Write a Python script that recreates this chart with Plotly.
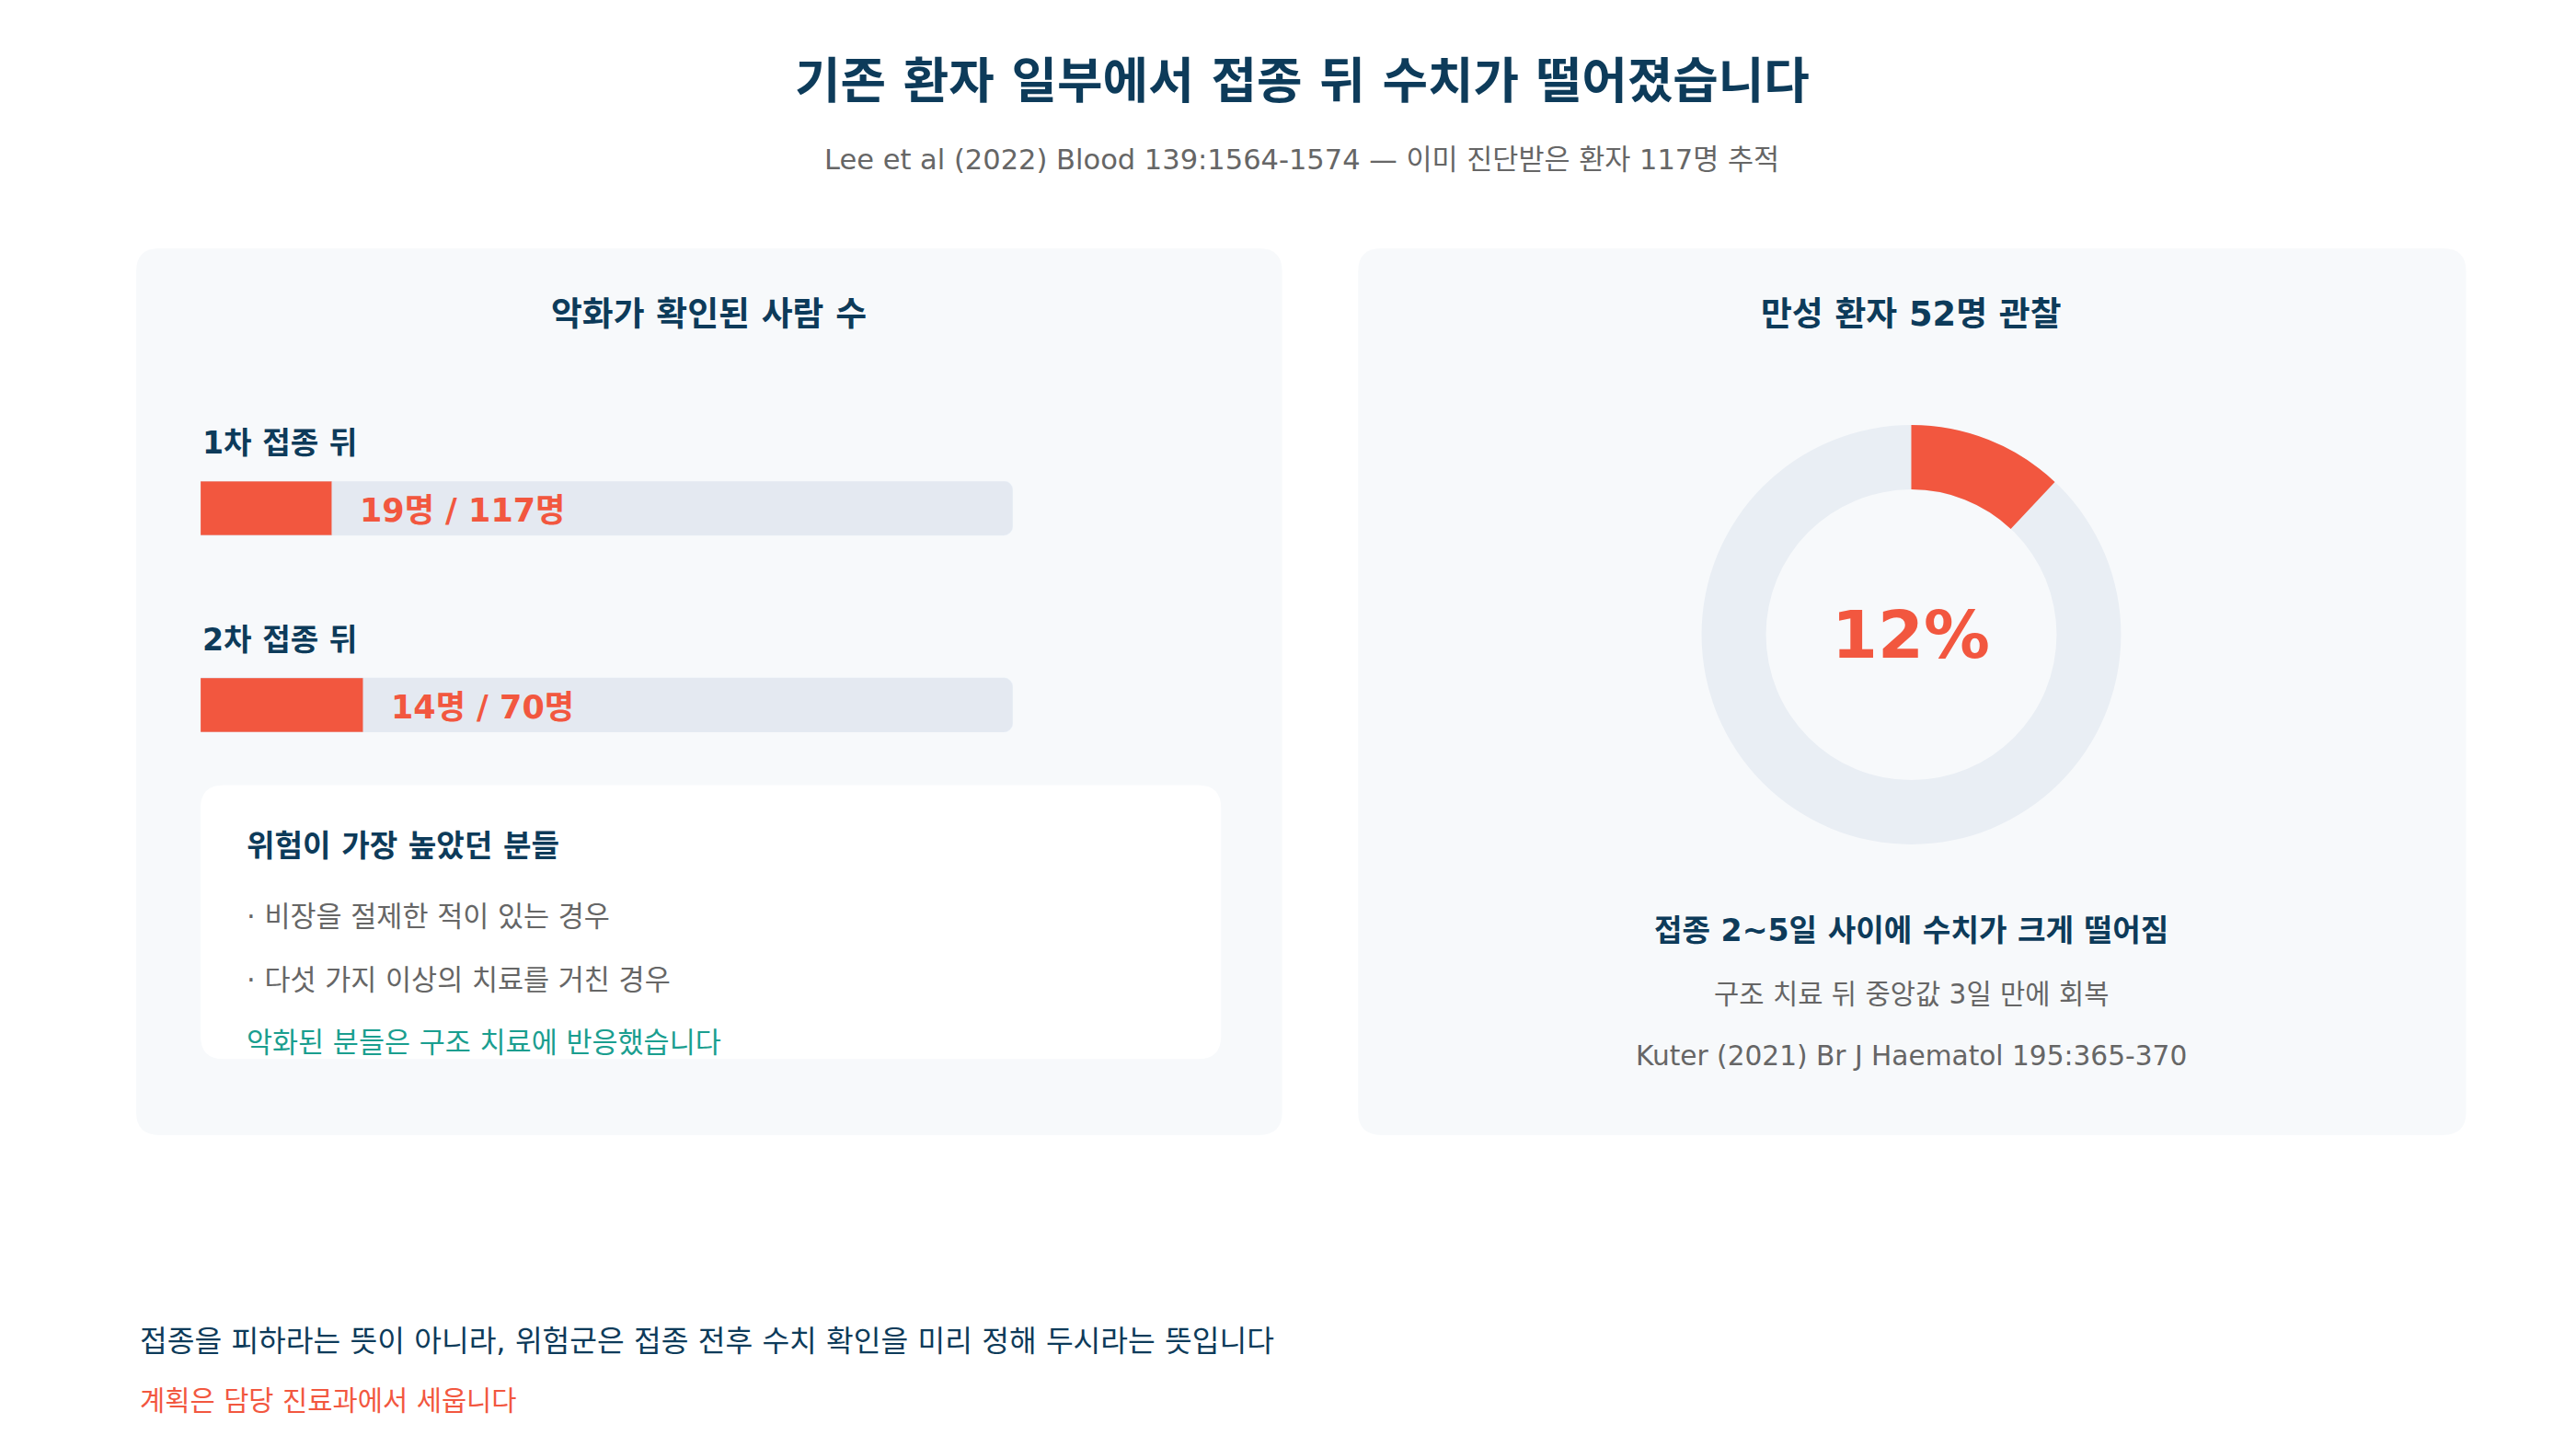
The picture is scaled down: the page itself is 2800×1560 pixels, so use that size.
import plotly.graph_objects as go

title = "기존 환자 일부에서 접종 뒤 수치가 떨어졌습니다"
subtitle = "Lee et al (2022) Blood 139:1564-1574 — 이미 진단받은 환자 117명 추적"
bar_labels = ["1차 접종 뒤", "2차 접종 뒤"]
bar_counts = [19, 14]
bar_totals = [117, 70]
risk_items = ["· 비장을 절제한 적이 있는 경우", "· 다섯 가지 이상의 치료를 거친 경우"]
donut_pct = 12

W, H = 2800, 1560
S = W / 1560.0
HD = H / S
FONT = "DejaVu Sans, Noto Sans CJK KR"
DARK = "#0d3b5a"; RED = "#f2573f"; GRAY = "#666666"; TEAL = "#1a9e8f"

def px(xd): return xd / 1560.0
def py(yd): return 1 - yd / HD

fig = go.Figure()

yv = [1, 0]
fig.add_trace(go.Bar(x=[1, 1], y=yv, orientation="h", marker_color="#e4e9f1",
                     width=33/119, hoverinfo="skip"))
fig.add_trace(go.Bar(x=[c/t for c, t in zip(bar_counts, bar_totals)], y=yv, orientation="h",
                     marker_color=RED, width=33/119, hoverinfo="skip"))
r = 16.5/119
fig.update_layout(
    xaxis=dict(domain=[px(117), px(609)], range=[0, 1], visible=False, fixedrange=True),
    yaxis=dict(domain=[py(439), py(287)], range=[-r, 1+r], visible=False, fixedrange=True),
    barmode="overlay", barcornerradius=int(6*S), bargap=0)

dom = dict(x=[px(1026), px(1280)], y=[py(507), py(253)])
fig.add_trace(go.Pie(values=[1], marker_colors=["#e9eef4"], hole=88/127, domain=dom,
                     textinfo="none", hoverinfo="skip", sort=False, showlegend=False))
fig.add_trace(go.Pie(values=[donut_pct, 100-donut_pct], marker_colors=[RED, "rgba(0,0,0,0)"],
                     hole=88/127, domain=dom, textinfo="none", hoverinfo="skip", sort=False,
                     direction="clockwise", rotation=0, showlegend=False))

shapes = []
def rrect(x0, y0, x1, y1, fill, rad=14):
    rx, ry = rad/1560.0, rad/HD
    X0, X1 = px(x0), px(x1); Y0, Y1 = py(y0), py(y1)
    path = (f"M{X0+rx},{Y0} L{X1-rx},{Y0} Q{X1},{Y0} {X1},{Y0-ry} L{X1},{Y1+ry} Q{X1},{Y1} {X1-rx},{Y1} "
            f"L{X0+rx},{Y1} Q{X0},{Y1} {X0},{Y1+ry} L{X0},{Y0-ry} Q{X0},{Y0} {X0+rx},{Y0} Z")
    shapes.append(dict(type="path", xref="paper", yref="paper", path=path, fillcolor=fill,
                       line_width=0, layer="below"))
rrect(78, 146, 772, 683, "#f7f9fb")
rrect(818, 146, 1489, 683, "#f7f9fb")
rrect(117, 471, 735, 637, "#ffffff")

ann = []
def t(x, y, text, size, color, bold=False, anchor="left"):
    ann.append(dict(x=px(x), y=py(y), xref="paper", yref="paper", text=f"<b>{text}</b>" if bold else text,
                    showarrow=False, xanchor=anchor, yanchor="middle",
                    font=dict(family=FONT, size=size*S, color=color)))
t(784, 45, title, 30, DARK, True, "center")
t(784, 92, subtitle, 17, GRAY, False, "center")
t(425, 186, "악화가 확인된 사람 수", 20.5, DARK, True, "center")
t(117, 264, bar_labels[0], 18.5, DARK, True)
t(212, 305, f"{bar_counts[0]}명 / {bar_totals[0]}명", 19.5, RED, True)
t(117, 383, bar_labels[1], 18.5, DARK, True)
t(231, 424, f"{bar_counts[1]}명 / {bar_totals[1]}명", 19.5, RED, True)
t(144, 508, "위험이 가장 높았던 분들", 18.5, DARK, True)
t(144, 551, risk_items[0], 17, GRAY)
t(144, 589, risk_items[1], 17, GRAY)
t(144, 627, "악화된 분들은 구조 치료에 반응했습니다", 17, TEAL)
t(1153, 186, "만성 환자 52명 관찰", 20.5, DARK, True, "center")
t(1153, 380, f"{donut_pct}%", 40, RED, True, "center")
t(1153, 559, "접종 2~5일 사이에 수치가 크게 떨어짐", 18.5, DARK, True, "center")
t(1153, 598, "구조 치료 뒤 중앙값 3일 만에 회복", 16.5, GRAY, False, "center")
t(1153, 635, "Kuter (2021) Br J Haematol 195:365-370", 16.5, GRAY, False, "center")
t(79, 808, "접종을 피하라는 뜻이 아니라, 위험군은 접종 전후 수치 확인을 미리 정해 두시라는 뜻입니다", 18, DARK)
t(79, 844, "계획은 담당 진료과에서 세웁니다", 16.5, RED)

fig.update_layout(width=W, height=H, margin=dict(l=0, r=0, t=0, b=0), showlegend=False,
                  paper_bgcolor="white", plot_bgcolor="rgba(0,0,0,0)",
                  shapes=shapes, annotations=ann, font=dict(family=FONT))
fig.write_html("out.html", config={"displayModeBar": False})
